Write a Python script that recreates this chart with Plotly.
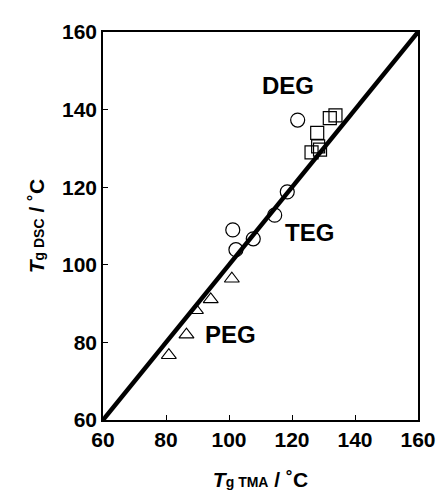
import plotly.graph_objects as go

peg_x = [80.9, 86.5, 89.5, 94.2, 100.9]
peg_y = [76.7, 82.0, 88.3, 91.1, 96.4]
teg_x = [102.2, 101.2, 107.7, 114.5, 118.5, 121.8]
teg_y = [103.9, 109.0, 106.7, 112.8, 118.8, 137.3]
deg_x = [126.2, 128.9, 128.3, 128.0, 132.0, 133.8]
deg_y = [129.0, 129.7, 130.5, 134.0, 137.8, 138.5]
line_x = [60, 160]
line_y = [60, 160]
labels = ["DEG", "TEG", "PEG"]
label_x = [118.8, 125.7, 100.6]
label_y = [146.1, 108.2, 82.0]
ticks = [60, 80, 100, 120, 140, 160]

FONT = "Liberation Sans"

fig = go.Figure()
fig.add_trace(go.Scatter(x=line_x, y=line_y, mode="lines",
                         line=dict(color="black", width=4.5), showlegend=False))
fig.add_trace(go.Scatter(x=peg_x, y=peg_y, mode="markers",
                         marker=dict(symbol="triangle-up-open", size=13, color="black", line=dict(width=1.1)),
                         showlegend=False))
fig.add_trace(go.Scatter(x=teg_x, y=teg_y, mode="markers",
                         marker=dict(symbol="circle-open", size=14, color="black", line=dict(width=1.2)),
                         showlegend=False))
fig.add_trace(go.Scatter(x=deg_x, y=deg_y, mode="markers",
                         marker=dict(symbol="square-open", size=13, color="black", line=dict(width=1.2)),
                         showlegend=False))

for t, x, y in zip(labels, label_x, label_y):
    fig.add_annotation(x=x, y=y, text=t, showarrow=False,
                       font=dict(family=FONT, size=24, color="black", weight="bold"))

axis_common = dict(range=[60, 160], tickvals=ticks, ticks="inside", ticklen=5,
                   tickcolor="black", showline=True, linecolor="black", linewidth=1.6,
                   mirror=True, showgrid=False, zeroline=False,
                   tickfont=dict(family=FONT, size=21, color="black", weight="bold"))
fig.update_xaxes(**axis_common,
                 title=dict(text="<i><b>T</b></i><span style='font-size:14px'><b>g TMA</b></span><b> / ˚C</b>",
                            font=dict(family=FONT, size=21, color="black"), standoff=22))
fig.update_yaxes(**axis_common,
                 title=dict(text="<i><b>T</b></i><span style='font-size:14px'><b>g DSC</b></span><b> / ˚C</b>",
                            font=dict(family=FONT, size=21, color="black"), standoff=12))

fig.update_layout(width=440, height=492, margin=dict(l=95, r=20, t=17, b=79),
                  plot_bgcolor="white", paper_bgcolor="white")
fig.write_html("out.html")
